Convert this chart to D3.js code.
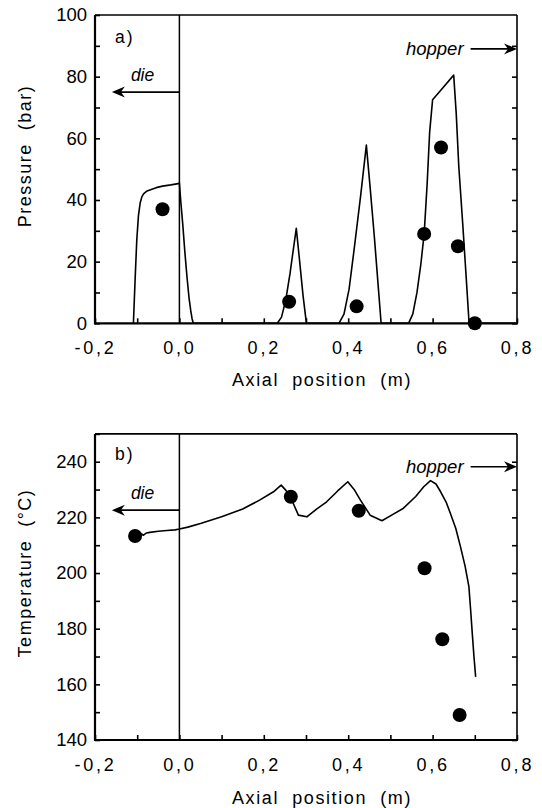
<!DOCTYPE html>
<html>
<head>
<meta charset="utf-8">
<script src="https://cdn.jsdelivr.net/npm/d3@7"></script>
<style>
  html, body { margin: 0; padding: 0; background: #fff; }
  svg { display: block; }
  text { font-family: "Liberation Sans", Arial, Helvetica, sans-serif; fill: #000; }
</style>
</head>
<body>
<svg id="chart" width="542" height="808"></svg>
<script>
// ---- Data ----
// Axial position ticks (m)
const xTickValues = [-0.2, -0.1, 0.0, 0.1, 0.2, 0.3, 0.4, 0.5, 0.6, 0.7, 0.8];
const xTickLabels = ["-0,2", "", "0,0", "", "0,2", "", "0,4", "", "0,6", "", "0,8"];

// a) Pressure (bar)
const pressureTickValues = [0, 10, 20, 30, 40, 50, 60, 70, 80, 90, 100];
const pressureTickLabels = ["0", "", "20", "", "40", "", "60", "", "80", "", "100"];
const pressureCurveX = [-0.109, -0.105, -0.101, -0.097, -0.093, -0.089, -0.085, -0.078, -0.07, -0.055, -0.04,
  -0.02, -0.003, 0.0, 0.003, 0.008, 0.013, 0.018, 0.023, 0.027, 0.030, 0.033, 0.1, 0.2, 0.232,
  0.242, 0.252, 0.262, 0.27, 0.277, 0.285, 0.293, 0.301, 0.35, 0.378, 0.39, 0.402, 0.415, 0.43,
  0.443, 0.452, 0.462, 0.47, 0.478, 0.52, 0.543, 0.553, 0.563, 0.572, 0.58, 0.587, 0.593, 0.6,
  0.625, 0.65, 0.656, 0.662, 0.672, 0.68, 0.686, 0.69, 0.75, 0.8];
const pressureCurveY = [0, 14, 27, 35, 39, 41, 42, 42.8, 43.2, 44, 44.5,
  44.9, 45.3, 45.5, 40, 32, 23, 15, 8, 4, 1.5, 0, 0, 0, 0,
  2, 7.5, 16, 24, 30.8, 20, 9, 0, 0, 0, 3, 11, 25, 42,
  57.8, 44, 28, 14, 0, 0, 0, 3, 10, 19, 29, 45, 62, 72.5,
  76.5, 80.5, 68, 51, 31, 14, 1, 0, 0, 0];
const pressureMeasX = [-0.04, 0.26, 0.42, 0.58, 0.62, 0.66, 0.70];
const pressureMeasY = [37, 7, 5.5, 29, 57, 25, 0];

// b) Temperature (°C)
const tempTickValues = [140, 150, 160, 170, 180, 190, 200, 210, 220, 230, 240, 250];
const tempTickLabels = ["140", "", "160", "", "180", "", "200", "", "220", "", "240", ""];
const tempCurveX = [-0.1, -0.093, -0.085, -0.078, -0.07, -0.05, -0.03, -0.01, 0.0, 0.02, 0.05, 0.1,
  0.15, 0.19, 0.223, 0.241, 0.252, 0.263, 0.282, 0.302, 0.325, 0.349, 0.375, 0.399, 0.415, 0.429,
  0.452, 0.48, 0.505, 0.531, 0.56, 0.579, 0.595, 0.608, 0.619, 0.632, 0.642, 0.655, 0.666, 0.677,
  0.686, 0.69, 0.694, 0.698, 0.702];
const tempCurveY = [213.5, 214.3, 213.6, 214.4, 214.6, 215.0, 215.3, 215.5, 215.8, 216.5, 217.8, 220.2,
  223.0, 226.2, 229.2, 231.6, 229.8, 227.4, 220.8, 220.2, 223.0, 225.6, 229.5, 232.8, 229.8, 226.2,
  220.8, 218.8, 221.0, 223.3, 227.5, 231.0, 233.2, 232.0, 229.2, 225.5, 221.5, 216.0, 209.5, 202.5,
  195.1, 187.0, 178.3, 170.0, 162.7];
const tempMeasX = [-0.105, 0.264, 0.425, 0.581, 0.623, 0.664];
const tempMeasY = [213.3, 227.4, 222.4, 201.7, 176.2, 149.0];

// Direction markers: [x start, x tip, level]
const dieArrowA = [0.0, -0.16, 75];
const hopperArrowA = [0.69, 0.8, 89];
const dieArrowB = [0.0, -0.16, 222.6];
const hopperArrowB = [0.69, 0.8, 238.2];

// ---- Drawing ----
const svg = d3.select("#chart");

const x = d3.scaleLinear().domain([-0.2, 0.8]).range([95, 517]);

function arrowHead(g, tipX, y, dir) {
  // notched arrowhead pointing left (dir=-1) or right (dir=1)
  const L = 13, Wd = 5.5, notch = 4;
  const p = d3.path();
  p.moveTo(tipX, y);
  p.lineTo(tipX - dir * L, y - Wd);
  p.lineTo(tipX - dir * (L - notch), y);
  p.lineTo(tipX - dir * L, y + Wd);
  p.closePath();
  g.append("path").attr("d", p.toString()).attr("fill", "#000");
}

function drawPanel(cfg) {
  const y = d3.scaleLinear().domain(cfg.yDomain).range(cfg.yRange);
  const g = svg.append("g");
  const [x0, x1] = x.range();
  const [yb, yt] = cfg.yRange;

  // ticks
  const xAxis = d3.axisBottom(x).tickValues(xTickValues).tickSize(-5).tickPadding(18)
    .tickFormat((d, i) => xTickLabels[i]);
  const gx = g.append("g").attr("transform", `translate(0,${yb})`).call(xAxis);
  gx.select(".domain").remove();
  gx.selectAll("text").attr("font-size", 18).attr("letter-spacing", 2.8)
    .attr("font-family", "Liberation Sans, Arial, sans-serif");

  const yAxis = d3.axisLeft(y).tickValues(cfg.yTicks).tickSize(-5).tickPadding(8)
    .tickFormat((d, i) => cfg.yLabels[i]);
  const gy = g.append("g").attr("transform", `translate(${x0},0)`).call(yAxis);
  gy.select(".domain").remove();
  gy.selectAll("text").attr("font-size", 18.5)
    .attr("font-family", "Liberation Sans, Arial, sans-serif");

  const yAxisR = d3.axisRight(y).tickValues(cfg.yTicks.filter(v => v !== cfg.yDomain[1])).tickSize(-5).tickFormat("");
  const gr = g.append("g").attr("transform", `translate(${x1},0)`).call(yAxisR);
  gr.select(".domain").remove();
  g.selectAll(".tick line").attr("stroke", "#000").attr("stroke-width", 1.6);

  // frame
  g.append("line").attr("x1", x0).attr("x2", x0).attr("y1", yt).attr("y2", yb + 1)
    .attr("stroke", "#000").attr("stroke-width", 2.2);
  g.append("line").attr("x1", x0 - 1).attr("x2", x1 + 1).attr("y1", yb).attr("y2", yb)
    .attr("stroke", "#000").attr("stroke-width", 2.2);
  g.append("line").attr("x1", x0).attr("x2", x1).attr("y1", yt).attr("y2", yt)
    .attr("stroke", "#000").attr("stroke-width", 1.6);
  g.append("line").attr("x1", x1).attr("x2", x1).attr("y1", yt).attr("y2", yb)
    .attr("stroke", "#000").attr("stroke-width", 1.6);

  // die / screw boundary
  g.append("line").attr("x1", x(0)).attr("x2", x(0)).attr("y1", yt).attr("y2", yb)
    .attr("stroke", "#000").attr("stroke-width", 1.5);

  // simulated profile
  const line = d3.line().x(d => x(d[0])).y(d => y(d[1]));
  const pts = cfg.curveX.map((v, i) => [v, cfg.curveY[i]]);
  g.append("path").attr("d", line(pts)).attr("fill", "none")
    .attr("stroke", "#000").attr("stroke-width", 1.6).attr("stroke-linejoin", "round");

  // measurements
  g.selectAll("circle.meas").data(cfg.measX.map((v, i) => [v, cfg.measY[i]]))
    .enter().append("circle").attr("class", "meas")
    .attr("cx", d => x(d[0])).attr("cy", d => y(d[1])).attr("r", 7).attr("fill", "#000");

  // die arrow
  const [ds, dt, dl] = cfg.die;
  g.append("line").attr("x1", x(ds)).attr("x2", x(dt) + 8).attr("y1", y(dl)).attr("y2", y(dl))
    .attr("stroke", "#000").attr("stroke-width", 1.6);
  arrowHead(g, x(dt), y(dl), -1);
  g.append("text").attr("x", x(dt) + 19).attr("y", y(dl) - 11.5)
    .attr("font-size", 17.5).attr("font-style", "italic").text("die");

  // hopper arrow
  const [hs, ht, hl] = cfg.hopper;
  g.append("line").attr("x1", x(hs)).attr("x2", x(ht) - 8).attr("y1", y(hl)).attr("y2", y(hl))
    .attr("stroke", "#000").attr("stroke-width", 1.6);
  arrowHead(g, x(ht), y(hl), 1);
  g.append("text").attr("x", x(hs) - 7).attr("y", y(hl) + 6).attr("text-anchor", "end")
    .attr("font-size", 18.5).attr("font-style", "italic").text("hopper");

  // panel letter
  g.append("text").attr("x", 115).attr("y", yt + cfg.letterDy)
    .attr("font-size", 17.5).attr("letter-spacing", 2).text(cfg.letter);

  // axis titles
  g.append("text").attr("x", 322).attr("y", cfg.xTitleY).attr("text-anchor", "middle")
    .attr("font-size", 18).attr("letter-spacing", 1.6).attr("xml:space", "preserve")
    .text("Axial  position  (m)");
  g.append("text").attr("transform", `translate(31,${cfg.yTitleCenter}) rotate(-90)`)
    .attr("text-anchor", "middle").attr("font-size", 18).attr("letter-spacing", 1.5)
    .attr("xml:space", "preserve").text(cfg.yTitle);
}

drawPanel({
  yDomain: [0, 100], yRange: [323.3, 15],
  yTicks: pressureTickValues, yLabels: pressureTickLabels,
  curveX: pressureCurveX, curveY: pressureCurveY,
  measX: pressureMeasX, measY: pressureMeasY,
  die: dieArrowA, hopper: hopperArrowA,
  letter: "a)", letterDy: 28,
  xTitleY: 386, yTitleCenter: 156, yTitle: "Pressure  (bar)"
});

drawPanel({
  yDomain: [140, 250], yRange: [740, 433.9],
  yTicks: tempTickValues, yLabels: tempTickLabels,
  curveX: tempCurveX, curveY: tempCurveY,
  measX: tempMeasX, measY: tempMeasY,
  die: dieArrowB, hopper: hopperArrowB,
  letter: "b)", letterDy: 26,
  xTitleY: 804, yTitleCenter: 573, yTitle: "Temperature  (°C)"
});
</script>
</body>
</html>
